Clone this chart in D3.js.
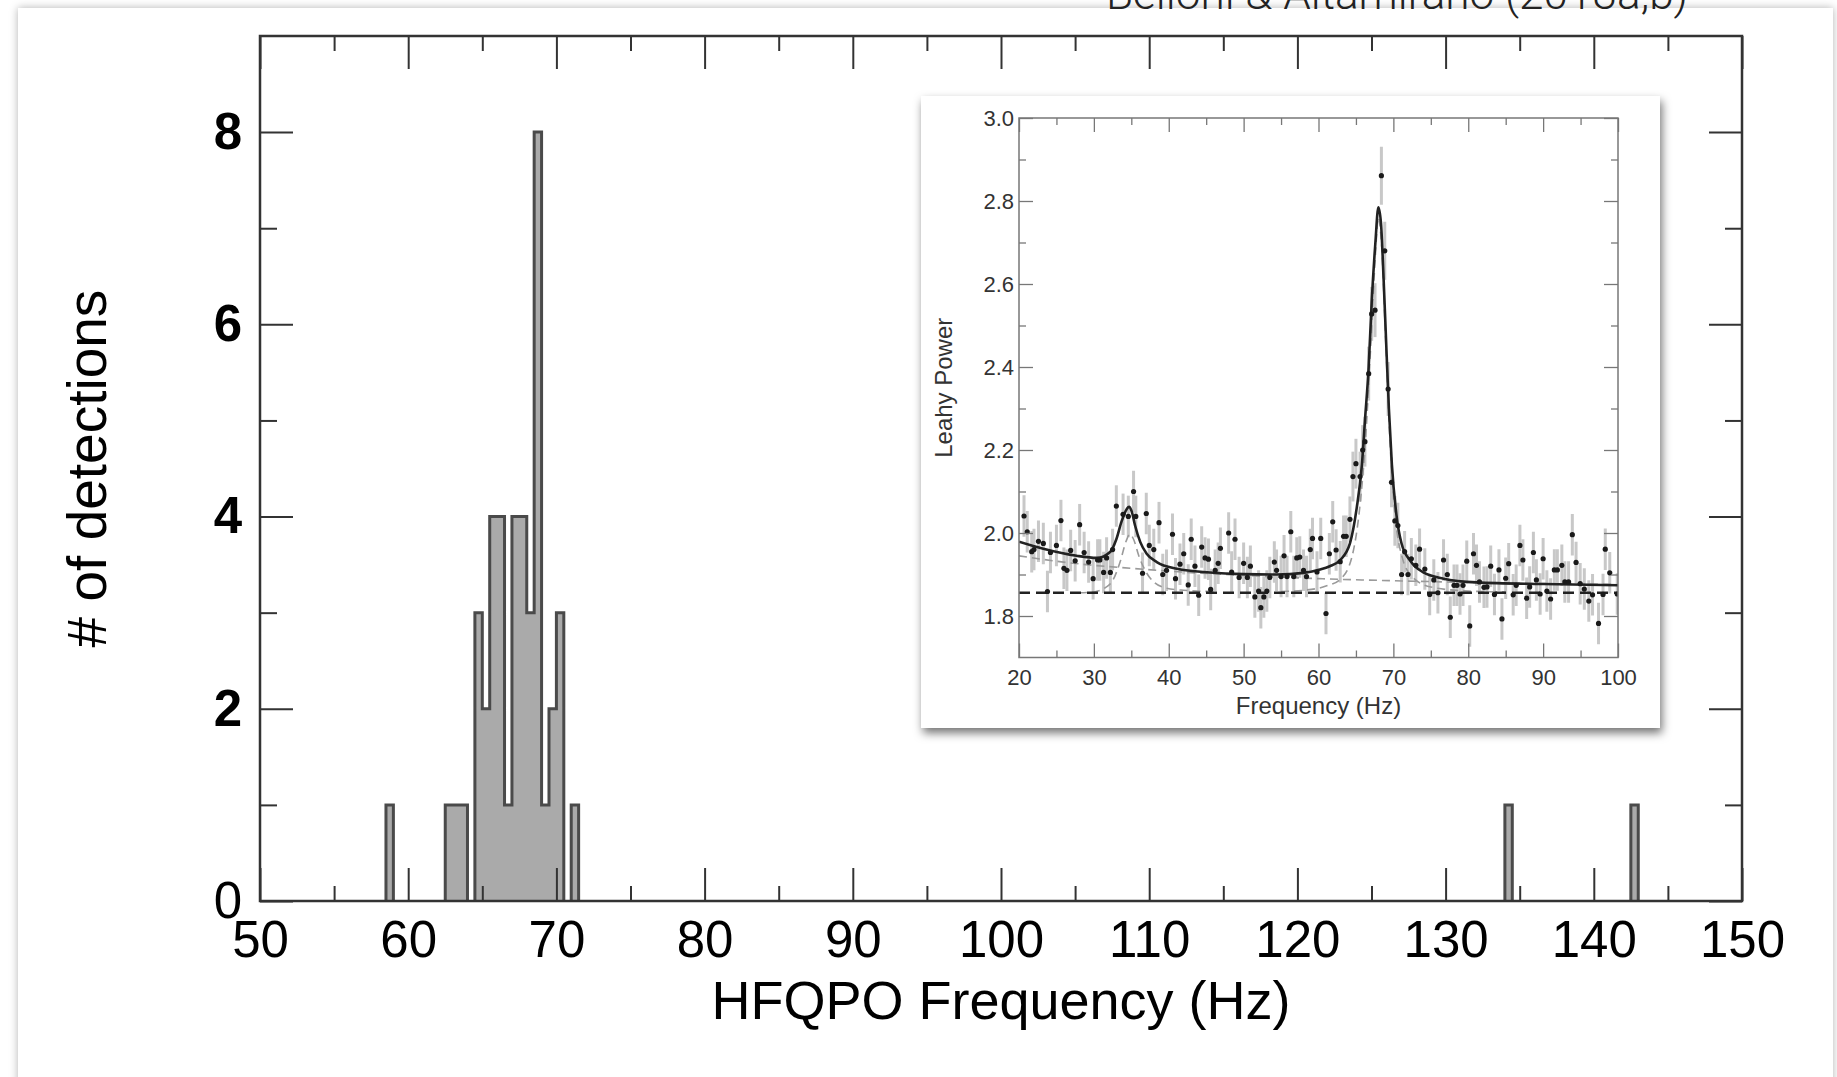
<!DOCTYPE html>
<html>
<head>
<meta charset="utf-8">
<script src="https://cdn.jsdelivr.net/npm/d3@7"></script>
<style>
  body { margin: 0; background: #fff; }
  svg { display: block; }
  text { font-family: "Liberation Sans", Arial, Helvetica, sans-serif; }
</style>
</head>
<body>
<svg></svg>
<script>
// ---- main histogram data (0.5 Hz bins, left edge + count) ----
let binWidth = 0.5
let binStarts = [58.5, 62.5, 63.0, 63.5, 64.5, 65.0, 65.5, 66.0, 66.5, 67.0, 67.5, 68.0, 68.5, 69.0, 69.5, 70.0, 71.0, 134.0, 142.5]
let binCounts = [1, 1, 1, 1, 3, 2, 4, 4, 1, 4, 4, 3, 8, 1, 2, 3, 1, 1, 1]

let xMajor = [50, 60, 70, 80, 90, 100, 110, 120, 130, 140, 150]
let xMinor = [55, 65, 75, 85, 95, 105, 115, 125, 135, 145]
let yMajor = [0, 2, 4, 6, 8]
let yMinor = [1, 3, 5, 7]

// ---- inset power spectrum: [frequency, Leahy power, error] ----
let psd = [
  [20.67, 2.041, 0.05], [21.1, 2.003, 0.05], [21.7, 1.955, 0.05], [22.0, 1.96, 0.05], [22.6, 1.98, 0.05],
  [23.25, 1.975, 0.05], [23.8, 1.859, 0.05], [24.2, 1.953, 0.05], [25.0, 1.97, 0.05], [25.6, 2.03, 0.05],
  [26.0, 1.915, 0.05], [26.4, 1.91, 0.05], [26.9, 1.958, 0.05], [27.5, 1.933, 0.05], [28.1, 2.02, 0.05],
  [28.7, 1.953, 0.05], [29.3, 1.93, 0.05], [29.9, 1.89, 0.05], [30.5, 1.935, 0.05], [30.8, 1.935, 0.05],
  [31.3, 1.905, 0.05], [31.7, 1.94, 0.05], [32.2, 1.905, 0.05], [32.5, 1.96, 0.05], [33.0, 2.065, 0.05],
  [33.9, 2.045, 0.05], [34.6, 2.04, 0.05], [35.3, 2.1, 0.05], [35.6, 2.04, 0.05], [36.5, 1.903, 0.05],
  [37.0, 2.047, 0.05], [37.4, 1.97, 0.05], [38.0, 1.96, 0.05], [38.7, 2.025, 0.05], [39.2, 1.9, 0.05],
  [39.7, 1.91, 0.05], [40.5, 1.997, 0.05], [40.9, 1.89, 0.05], [41.5, 1.925, 0.05], [42.0, 1.95, 0.05],
  [42.6, 1.875, 0.05], [43.0, 1.985, 0.05], [43.5, 1.92, 0.05], [44.0, 1.85, 0.05], [44.4, 1.966, 0.05],
  [44.85, 1.94, 0.05], [45.3, 1.937, 0.05], [45.6, 1.864, 0.05], [46.2, 1.91, 0.05], [46.6, 1.927, 0.05],
  [46.9, 1.963, 0.05], [48.0, 2.0, 0.05], [48.4, 1.906, 0.05], [48.85, 1.985, 0.05], [49.4, 1.893, 0.05],
  [50.0, 1.927, 0.05], [50.5, 1.893, 0.05], [50.9, 1.92, 0.05], [51.5, 1.846, 0.05], [52.0, 1.86, 0.05],
  [52.3, 1.82, 0.05], [52.7, 1.846, 0.05], [53.1, 1.86, 0.05], [53.5, 1.893, 0.05], [54.1, 1.93, 0.05],
  [54.4, 1.91, 0.05], [55.0, 1.895, 0.05], [55.4, 1.945, 0.05], [55.8, 1.895, 0.05], [56.3, 2.003, 0.05],
  [56.7, 1.895, 0.05], [57.1, 1.94, 0.05], [57.5, 1.942, 0.05], [58.0, 1.91, 0.05], [58.4, 1.895, 0.05],
  [58.9, 1.96, 0.05], [59.2, 1.987, 0.05], [59.8, 1.906, 0.05], [60.3, 1.987, 0.05], [61.0, 1.806, 0.05],
  [61.45, 1.95, 0.05], [61.9, 2.027, 0.05], [62.35, 1.959, 0.05], [62.9, 1.931, 0.05], [63.35, 1.992, 0.05],
  [63.7, 1.992, 0.05], [64.2, 2.033, 0.055], [64.6, 2.136, 0.06], [65.0, 2.167, 0.06], [65.55, 2.136, 0.06],
  [65.9, 2.2, 0.06], [66.2, 2.22, 0.06], [66.7, 2.384, 0.065], [67.1, 2.528, 0.065], [67.55, 2.537, 0.065],
  [68.4, 2.861, 0.07], [68.85, 2.68, 0.07], [69.3, 2.347, 0.065], [69.75, 2.122, 0.06], [70.2, 2.029, 0.06],
  [70.6, 2.018, 0.055], [71.1, 1.9, 0.05], [71.5, 1.955, 0.05], [71.95, 1.9, 0.05], [72.4, 1.938, 0.05],
  [73.0, 1.922, 0.05], [73.5, 1.961, 0.05], [74.2, 1.913, 0.05], [74.85, 1.852, 0.05], [75.4, 1.887, 0.05],
  [75.95, 1.856, 0.05], [76.7, 1.935, 0.05], [77.2, 1.9, 0.05], [77.6, 1.797, 0.05], [78.1, 1.874, 0.05],
  [78.5, 1.874, 0.05], [78.9, 1.853, 0.05], [79.3, 1.874, 0.05], [79.8, 1.932, 0.05], [80.2, 1.776, 0.05],
  [80.7, 1.95, 0.05], [81.1, 1.922, 0.05], [81.5, 1.882, 0.05], [82.1, 1.869, 0.05], [82.5, 1.87, 0.05],
  [83.0, 1.92, 0.05], [83.5, 1.852, 0.05], [84.1, 1.911, 0.05], [84.5, 1.793, 0.05], [85.0, 1.891, 0.05],
  [85.4, 1.926, 0.05], [86.0, 1.851, 0.05], [86.4, 1.874, 0.05], [86.9, 1.97, 0.05], [87.3, 1.935, 0.05],
  [87.8, 1.843, 0.05], [88.2, 1.87, 0.05], [88.7, 1.953, 0.05], [89.1, 1.887, 0.05], [89.6, 1.853, 0.05],
  [90.0, 1.938, 0.05], [90.5, 1.86, 0.05], [91.0, 1.841, 0.05], [91.5, 1.911, 0.05], [91.9, 1.911, 0.05],
  [92.5, 1.922, 0.05], [92.9, 1.882, 0.05], [93.4, 1.882, 0.05], [93.9, 1.996, 0.05], [94.4, 1.929, 0.05],
  [94.95, 1.878, 0.05], [95.5, 1.865, 0.05], [96.1, 1.836, 0.05], [96.6, 1.851, 0.05], [97.4, 1.782, 0.05],
  [98.0, 1.852, 0.05], [98.3, 1.961, 0.05], [98.9, 1.904, 0.05], [99.9, 1.853, 0.05]
]

// total model curve
let fitFreq = [20, 23.25, 27.7, 30.4, 32.2, 33.0, 33.7, 34.4, 34.7, 35.05, 35.5, 36.2, 37.05, 38.4, 41.1, 45.5, 50, 54.4, 58, 60.2, 61.5, 62.9, 64.2, 65.1, 65.8, 66.2, 66.7, 67.1, 67.6, 68.0, 68.35, 68.7, 69.1, 69.4, 69.8, 70.4, 71.1, 72.3, 74, 76.7, 81.1, 90, 100]
let fitPower = [1.979, 1.962, 1.945, 1.94, 1.955, 1.985, 2.028, 2.058, 2.063, 2.052, 2.018, 1.978, 1.95, 1.93, 1.914, 1.905, 1.901, 1.9, 1.904, 1.912, 1.92, 1.935, 1.975, 2.06, 2.165, 2.27, 2.4, 2.555, 2.7, 2.785, 2.745, 2.61, 2.43, 2.3, 2.165, 2.045, 1.974, 1.932, 1.905, 1.89, 1.881, 1.877, 1.874]

// model components (grey dashed)
let broadFreq = [20, 25, 30, 35, 40, 50, 60, 70, 80, 90, 100]
let broadPower = [1.945, 1.932, 1.922, 1.915, 1.908, 1.898, 1.89, 1.885, 1.881, 1.878, 1.876]
let qpo1Freq = [28, 30, 31.5, 32.5, 33.5, 34.3, 34.8, 35.3, 36, 37, 38, 39.5, 42, 46]
let qpo1Power = [1.856, 1.858, 1.868, 1.885, 1.93, 1.98, 1.997, 1.985, 1.945, 1.905, 1.882, 1.868, 1.862, 1.859]
let qpo2Freq = [55, 58, 61, 63, 64.5, 65.5, 66.3, 67, 67.6, 68, 68.4, 69, 69.6, 70.3, 71.2, 72.5, 75, 80, 85]
let qpo2Power = [1.859, 1.862, 1.872, 1.89, 1.945, 2.06, 2.23, 2.46, 2.67, 2.76, 2.7, 2.45, 2.2, 2.03, 1.94, 1.895, 1.87, 1.86, 1.858]
let constLevel = 1.856

let insetXMajor = [20, 30, 40, 50, 60, 70, 80, 90, 100]
let insetXMinor = [25, 35, 45, 55, 65, 75, 85, 95]
let insetYMajor = [1.8, 2.0, 2.2, 2.4, 2.6, 2.8, 3.0]
let insetYMinor = [1.9, 2.1, 2.3, 2.5, 2.7, 2.9]

// ---- canvas ----
let width = 1837
let height = 1077
let plotLeft = 260
let plotRight = 1742
let plotTop = 36
let plotBottom = 901

let svg = d3.select('svg')
let defs = svg.append('defs')

let xScale
let yScale

let drawCanvas = () => {
    svg.attr('width', width)
    svg.attr('height', height)

    defs.append('filter')
        .attr('id', 'panelShadow')
        .attr('x', '-2%').attr('y', '-2%').attr('width', '104%').attr('height', '104%')
        .append('feDropShadow')
        .attr('dx', 0).attr('dy', 0).attr('stdDeviation', 4)
        .attr('flood-color', '#000').attr('flood-opacity', 0.3)

    defs.append('filter')
        .attr('id', 'insetShadow')
        .attr('x', '-5%').attr('y', '-5%').attr('width', '112%').attr('height', '114%')
        .append('feDropShadow')
        .attr('dx', 2).attr('dy', 5).attr('stdDeviation', 5)
        .attr('flood-color', '#000').attr('flood-opacity', 0.55)

    svg.append('rect')
        .attr('x', 18).attr('y', 8)
        .attr('width', 1815).attr('height', 1100)
        .attr('fill', '#fff')
        .attr('filter', 'url(#panelShadow)')

    // credit line, cut off by the top edge as in the original slide
    svg.append('text')
        .attr('x', 1106).attr('y', 9)
        .attr('textLength', 582).attr('lengthAdjust', 'spacingAndGlyphs')
        .style('font-family', 'Roboto, "Liberation Sans", sans-serif')
        .style('font-weight', 300)
        .style('font-size', '43px')
        .attr('fill', '#222')
        .text('Belloni & Altamirano (2013a,b)')
}

let generateScales = () => {
    xScale = d3.scaleLinear().domain([50, 150]).range([plotLeft, plotRight])
    yScale = d3.scaleLinear().domain([0, 9]).range([plotBottom, plotTop])
}

let drawHistogram = () => {
    // group contiguous bins into runs so the outline is a single step line
    let runs = []
    binStarts.forEach((start, i) => {
        let last = runs[runs.length - 1]
        if (last && Math.abs(last[last.length - 1].start + binWidth - start) < 1e-6) {
            last.push({start: start, count: binCounts[i]})
        } else {
            runs.push([{start: start, count: binCounts[i]}])
        }
    })

    runs.forEach((run) => {
        let p = d3.path()
        p.moveTo(xScale(run[0].start), yScale(0))
        run.forEach((bin) => {
            p.lineTo(xScale(bin.start), yScale(bin.count))
            p.lineTo(xScale(bin.start + binWidth), yScale(bin.count))
        })
        p.lineTo(xScale(run[run.length - 1].start + binWidth), yScale(0))
        svg.append('path')
            .attr('d', p.toString())
            .attr('fill', '#aaaaaa')
            .attr('stroke', '#4a4a4a')
            .attr('stroke-width', 3)
            .attr('stroke-linejoin', 'miter')
    })
}

let styleAxis = (g) => {
    g.select('.domain').remove()
    g.selectAll('.tick line').attr('stroke', '#333').attr('stroke-width', 2)
}

let generateAxes = () => {
    let bottomMajor = d3.axisBottom(xScale).tickValues(xMajor).tickSize(-33).tickPadding(20).tickFormat(d3.format('d'))
    let bottomMinor = d3.axisBottom(xScale).tickValues(xMinor).tickSize(-15).tickFormat('')
    let topMajor = d3.axisTop(xScale).tickValues(xMajor).tickSize(-33).tickFormat('')
    let topMinor = d3.axisTop(xScale).tickValues(xMinor).tickSize(-15).tickFormat('')
    let leftMajor = d3.axisLeft(yScale).tickValues(yMajor).tickSize(-33).tickPadding(18).tickFormat(d3.format('d'))
    let leftMinor = d3.axisLeft(yScale).tickValues(yMinor).tickSize(-17).tickFormat('')
    let rightMajor = d3.axisRight(yScale).tickValues(yMajor).tickSize(-33).tickFormat('')
    let rightMinor = d3.axisRight(yScale).tickValues(yMinor).tickSize(-17).tickFormat('')

    let xb = svg.append('g').attr('id', 'x-axis').attr('transform', 'translate(0,' + plotBottom + ')').call(bottomMajor).call(styleAxis)
    svg.append('g').attr('transform', 'translate(0,' + plotBottom + ')').call(bottomMinor).call(styleAxis)
    svg.append('g').attr('transform', 'translate(0,' + plotTop + ')').call(topMajor).call(styleAxis)
    svg.append('g').attr('transform', 'translate(0,' + plotTop + ')').call(topMinor).call(styleAxis)
    let yl = svg.append('g').attr('id', 'y-axis').attr('transform', 'translate(' + plotLeft + ',0)').call(leftMajor).call(styleAxis)
    svg.append('g').attr('transform', 'translate(' + plotLeft + ',0)').call(leftMinor).call(styleAxis)
    svg.append('g').attr('transform', 'translate(' + plotRight + ',0)').call(rightMajor).call(styleAxis)
    svg.append('g').attr('transform', 'translate(' + plotRight + ',0)').call(rightMinor).call(styleAxis)

    xb.selectAll('text')
        .attr('fill', '#000')
        .style('font-size', '51px')
    yl.selectAll('text')
        .attr('fill', '#000')
        .style('font-size', '51px')
        .style('font-weight', (d) => d === 0 ? 'normal' : 'bold')

    // frame
    svg.append('rect')
        .attr('x', plotLeft).attr('y', plotTop)
        .attr('width', plotRight - plotLeft).attr('height', plotBottom - plotTop)
        .attr('fill', 'none')
        .attr('stroke', '#333')
        .attr('stroke-width', 2.5)

    svg.append('text')
        .attr('x', (plotLeft + plotRight) / 2).attr('y', 1019)
        .attr('text-anchor', 'middle')
        .style('font-size', '54px')
        .attr('fill', '#000')
        .text('HFQPO Frequency (Hz)')

    svg.append('text')
        .attr('transform', 'translate(106,' + (plotTop + plotBottom) / 2 + ') rotate(-90)')
        .attr('text-anchor', 'middle')
        .style('font-size', '55px')
        .attr('fill', '#000')
        .text('# of detections')
}

// ---- inset ----
let drawInset = () => {
    let box = {x: 921, y: 96, w: 739, h: 632}
    let iLeft = 1019, iRight = 1618, iTop = 118, iBottom = 657.5

    let ix = d3.scaleLinear().domain([20, 100]).range([iLeft, iRight])
    let iy = d3.scaleLinear().domain([1.7, 3.0]).range([iBottom, iTop])

    let g = svg.append('g').attr('id', 'inset')

    g.append('rect')
        .attr('x', box.x).attr('y', box.y)
        .attr('width', box.w).attr('height', box.h)
        .attr('fill', '#fff')
        .attr('filter', 'url(#insetShadow)')

    let clip = defs.append('clipPath').attr('id', 'insetClip')
    clip.append('rect').attr('x', iLeft).attr('y', iTop).attr('width', iRight - iLeft).attr('height', iBottom - iTop)

    let plot = g.append('g').attr('clip-path', 'url(#insetClip)')

    // error bars
    plot.selectAll('line.err')
        .data(psd)
        .enter()
        .append('line')
        .attr('class', 'err')
        .attr('x1', (d) => ix(d[0])).attr('x2', (d) => ix(d[0]))
        .attr('y1', (d) => iy(d[1] - d[2])).attr('y2', (d) => iy(d[1] + d[2]))
        .attr('stroke', '#c8c8c8')
        .attr('stroke-width', 3)

    let line = d3.line()
        .x((d) => ix(d[0]))
        .y((d) => iy(d[1]))
        .curve(d3.curveMonotoneX)

    let comps = [[broadFreq, broadPower], [qpo1Freq, qpo1Power], [qpo2Freq, qpo2Power]]
    comps.forEach((c) => {
        plot.append('path')
            .attr('d', line(c[0].map((f, i) => [f, c[1][i]])))
            .attr('fill', 'none')
            .attr('stroke', '#9a9a9a')
            .attr('stroke-width', 1.6)
            .attr('stroke-dasharray', '8,5')
    })

    plot.append('path')
        .attr('d', line([[20, constLevel], [100, constLevel]]))
        .attr('fill', 'none')
        .attr('stroke', '#222')
        .attr('stroke-width', 2.4)
        .attr('stroke-dasharray', '11,6')

    plot.append('path')
        .attr('d', line(fitFreq.map((f, i) => [f, fitPower[i]])))
        .attr('fill', 'none')
        .attr('stroke', '#222')
        .attr('stroke-width', 2.6)

    plot.selectAll('circle')
        .data(psd)
        .enter()
        .append('circle')
        .attr('cx', (d) => ix(d[0]))
        .attr('cy', (d) => iy(d[1]))
        .attr('r', 2.6)
        .attr('fill', '#1a1a1a')

    let styleInset = (a) => {
        a.select('.domain').remove()
        a.selectAll('.tick line').attr('stroke', '#777').attr('stroke-width', 1.3)
        a.selectAll('text').attr('fill', '#333').style('font-size', '22px')
    }

    g.append('g').attr('transform', 'translate(0,' + iBottom + ')')
        .call(d3.axisBottom(ix).tickValues(insetXMajor).tickSize(-14).tickPadding(12).tickFormat(d3.format('d'))).call(styleInset)
    g.append('g').attr('transform', 'translate(0,' + iBottom + ')')
        .call(d3.axisBottom(ix).tickValues(insetXMinor).tickSize(-7).tickFormat('')).call(styleInset)
    g.append('g').attr('transform', 'translate(0,' + iTop + ')')
        .call(d3.axisTop(ix).tickValues(insetXMajor).tickSize(-14).tickFormat('')).call(styleInset)
    g.append('g').attr('transform', 'translate(0,' + iTop + ')')
        .call(d3.axisTop(ix).tickValues(insetXMinor).tickSize(-7).tickFormat('')).call(styleInset)
    g.append('g').attr('transform', 'translate(' + iLeft + ',0)')
        .call(d3.axisLeft(iy).tickValues(insetYMajor).tickSize(-14).tickPadding(5).tickFormat(d3.format('.1f'))).call(styleInset)
    g.append('g').attr('transform', 'translate(' + iLeft + ',0)')
        .call(d3.axisLeft(iy).tickValues(insetYMinor).tickSize(-7).tickFormat('')).call(styleInset)
    g.append('g').attr('transform', 'translate(' + iRight + ',0)')
        .call(d3.axisRight(iy).tickValues(insetYMajor).tickSize(-14).tickFormat('')).call(styleInset)
    g.append('g').attr('transform', 'translate(' + iRight + ',0)')
        .call(d3.axisRight(iy).tickValues(insetYMinor).tickSize(-7).tickFormat('')).call(styleInset)

    g.append('rect')
        .attr('x', iLeft).attr('y', iTop)
        .attr('width', iRight - iLeft).attr('height', iBottom - iTop)
        .attr('fill', 'none')
        .attr('stroke', '#777')
        .attr('stroke-width', 1.5)

    g.append('text')
        .attr('x', (iLeft + iRight) / 2).attr('y', 714)
        .attr('text-anchor', 'middle')
        .style('font-size', '24px')
        .attr('fill', '#333')
        .text('Frequency (Hz)')

    g.append('text')
        .attr('transform', 'translate(952,' + (iTop + iBottom) / 2 + ') rotate(-90)')
        .attr('text-anchor', 'middle')
        .style('font-size', '24px')
        .attr('fill', '#333')
        .text('Leahy Power')
}

drawCanvas()
generateScales()
drawHistogram()
generateAxes()
drawInset()
</script>
</body>
</html>
